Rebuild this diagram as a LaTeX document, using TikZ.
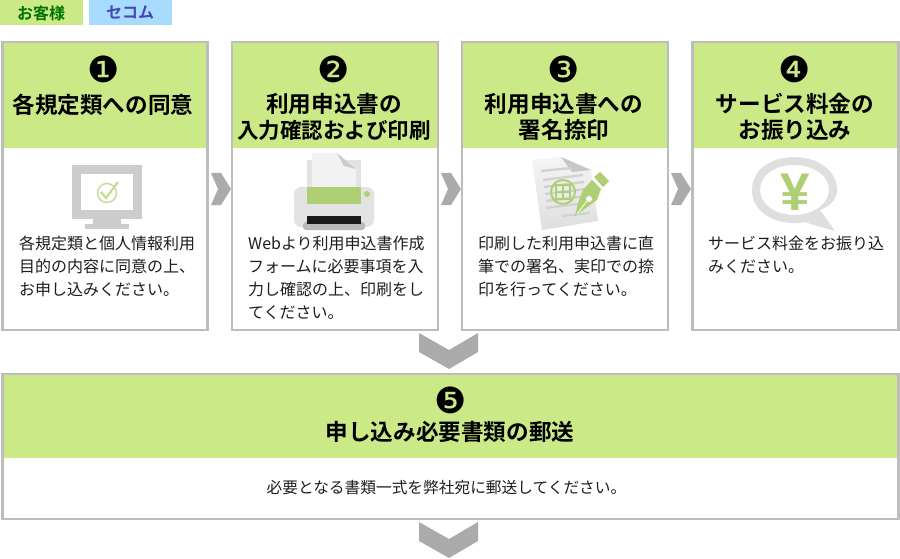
\documentclass[tikz,border=0pt]{standalone}
\usepackage{fontspec}
\setmainfont{Noto Sans CJK JP}[BoldFont={Noto Sans CJK JP Bold}]
\newfontfamily\numfont{DejaVu Sans}
\newfontfamily\yenfont{Liberation Sans}[Scale=1,BoldFont={Liberation Sans Bold}]
\definecolor{hdr}{HTML}{CBE987}
\definecolor{bord}{HTML}{BDBDBD}
\definecolor{tabblue}{HTML}{A8DCFF}
\definecolor{chev}{HTML}{ABABAB}
\definecolor{icgray}{HTML}{CDCDCD}
\definecolor{icgreen}{HTML}{AFCF74}
\definecolor{body}{HTML}{1E1E1E}
\tikzset{
  cardbox/.style={draw=bord,line width=2.2pt,fill=white},
  hdrfill/.style={fill=hdr},
  numlabel/.style={inner sep=0pt,font=\numfont\fontsize{36}{36}\selectfont,text=black},
  titlelabel/.style={inner sep=0pt,align=center,font=\bfseries\fontsize{22.6}{26}\selectfont,text=black},
  bodylabel/.style={inner sep=0pt,anchor=north west,align=left,font=\fontsize{16}{23.2}\selectfont,text=body},
  tablabel/.style={inner sep=0pt,font=\bfseries\fontsize{16}{16}\selectfont},
  chevron/.style={fill=chev},
}
\begin{document}
\begin{tikzpicture}[x=1pt,y=-1pt]
\useasboundingbox (0,0) rectangle (900,559);
% legend
\fill[hdr] (0,0) rectangle (83,25);
\fill[tabblue] (89,0) rectangle (172,25);
\node[tablabel,text=green!45!black] (tabA) at (41,13) {お客様};
\node[tablabel,text=blue!45!gray] (tabB) at (130,13) {セコム};
% cards
\foreach \l/\r in {2.5/207.5,232/438,462/668,692.5/898.5}{
  \draw[cardbox] (\l,42) rectangle (\r,330);
  \fill[hdrfill] (\l+1.1,43.1) rectangle (\r-1.1,148);
}
\draw[cardbox] (2.5,374) rectangle (898.5,519);
\fill[hdrfill] (3.6,375.1) rectangle (897.4,458);
% numbers
\node[numlabel] (n1) at (103.5,69.5) {❶};
\node[numlabel] (n2) at (334,69.5) {❷};
\node[numlabel] (n3) at (564,69.5) {❸};
\node[numlabel] (n4) at (795,69.5) {❹};
\node[numlabel] (n5) at (450.5,400) {❺};
% titles
\node[titlelabel] (t1) at (103,105) {各規定類への同意};
\node[titlelabel] (t2) at (334,117) {利用申込書の\\{\fontsize{21.5}{26}\selectfont 入力確認および印刷}};
\node[titlelabel] (t3) at (564,117) {利用申込書への\\署名捺印};
\node[titlelabel] (t4) at (795,117) {サービス料金の\\お振り込み};
\node[titlelabel] (t5) at (450,432) {申し込み必要書類の郵送};
% body
\node[bodylabel] (b1) at (19,235.5) {各規定類と個人情報利用\\目的の内容に同意の上、\\お申し込みください。};
\node[bodylabel] (b2) at (248,235.5) {Webより利用申込書作成\\フォームに必要事項を入\\力し確認の上、印刷をし\\てください。};
\node[bodylabel] (b3) at (478,235.5) {印刷した利用申込書に直\\筆での署名、実印での捺\\印を行ってください。};
\node[bodylabel] (b4) at (708,235.5) {サービス料金をお振り込\\みください。};
\node[inner sep=0pt,font=\fontsize{15.7}{20}\selectfont,text=body] (b5) at (446.5,488) {必要となる書類一式を弊社宛に郵送してください。};
% side chevrons
\foreach \dx in {0,230,460}{
  \fill[chevron] (211+\dx,173) -- (221+\dx,173) -- (231+\dx,189) -- (221+\dx,205) -- (211+\dx,205) -- (218+\dx,189) -- cycle;
}
% down chevrons
\foreach \dy in {0,189}{
  \fill[chevron] (419,333+\dy) -- (449,350+\dy) -- (478,333+\dy) -- (478,352+\dy) -- (449,369+\dy) -- (419,352+\dy) -- cycle;
}
% monitor icon
\fill[icgray] (72,165) rectangle (142,219);
\fill[white] (81,174) rectangle (133,210);
\fill[icgray] (93,219) rectangle (121,224);
\fill[icgray] (85,224) rectangle (129,229);
\draw[icgreen!75!white,line width=1.4pt] (107,193) circle (9.5);
\draw[icgreen!75!white,line width=2.2pt] (101,192) -- (106,198) -- (118,182);
% printer icon
\fill[gray!22] (307,160) rectangle (361,190);
\fill[gray!10] (312,153) -- (337,153) -- (356,169) -- (356,190) -- (312,190) -- cycle;
\fill[gray!40] (337,153) -- (356,169) -- (344,166) -- cycle;
\fill[gray!22,rounded corners=7pt] (294,187) rectangle (374,227);
\fill[icgreen] (307,187) rectangle (361,204);
\fill[icgreen] (367,194) circle (3);
\fill[gray!55,rounded corners=3pt] (303,222) rectangle (365,230);
\fill[black!90] (307,216) rectangle (361,224);
% document icon
\shade[top color=gray!8,bottom color=gray!25] (532,160) -- (561,157) -- (572,170) -- (591,170) -- (598,221) -- (542,230) -- cycle;
\fill[gray!45] (561,157) -- (591,170) -- (572,172) -- cycle;
\foreach \a/\b/\c/\d in {541/171/572/168,543/180/583/175,544/187/584/182,545/194/585/189,546/201/586/196,546/208/586/203,562/216/590/213}{
  \draw[gray!35,line width=2.4pt] (\a,\b) -- (\c,\d);
}
\draw[icgreen,line width=2pt] (563,192) circle (12);
\draw[icgreen,line width=1.2pt] (556,185) rectangle (570,199) (563,185) -- (563,199) (556,192) -- (570,192);
\fill[icgreen] (594,177) -- (600,172) -- (609,181) -- (603,187) -- cycle;
\fill[icgreen] (592,180) -- (601,189) -- (597,200) -- (586,208) -- (575,216) -- (578,203) -- (583,190) -- cycle;
\fill[white] (589,199) circle (3);
\draw[white,line width=0.8pt] (577,214) -- (587,201);
% speech bubble icon
\fill[gray!25,even odd rule] (752,190) .. controls (752,170) and (771,157) .. (794,157) .. controls (817,157) and (837,170) .. (837,190) .. controls (837,197) and (833,205) .. (820,210) -- (835,231) -- (804,222) .. controls (800,223) and (797,223) .. (794,223) .. controls (771,223) and (752,210) .. (752,190) -- cycle
(760,190) .. controls (760,204) and (775,215) .. (794,215) .. controls (813,215) and (829,204) .. (829,190) .. controls (829,175) and (813,165) .. (794,165) .. controls (775,165) and (760,175) .. (760,190) -- cycle;
\node[inner sep=0pt,font=\yenfont\bfseries\fontsize{53}{53}\selectfont,text=icgreen] (yen) at (795,192) {¥};
\end{tikzpicture}
\end{document}
